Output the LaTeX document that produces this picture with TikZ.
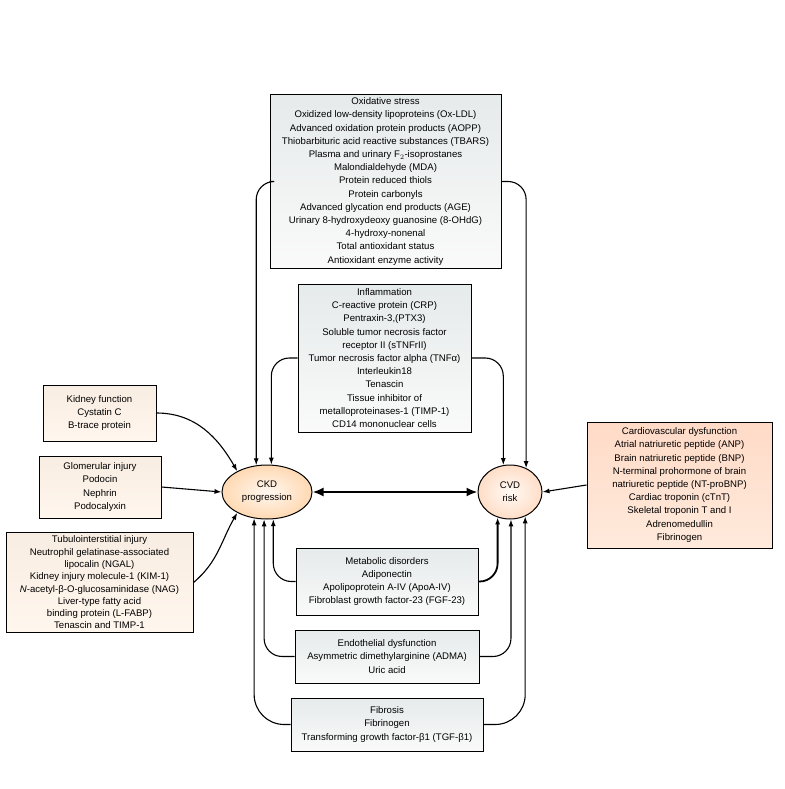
\documentclass[tikz,border=0pt]{standalone}
\usepackage{fontspec}
\setmainfont{Liberation Sans}
\usetikzlibrary{shapes.geometric,arrows.meta}
\begin{document}
\begin{tikzpicture}[x=1pt,y=-1pt,
  box/.style={draw,line width=1pt,align=center,inner sep=0pt,font=\fontsize{9.6}{13.2}\selectfont},
  bluebox/.style={box,top color=cyan!10!gray!18,bottom color=gray!4},
  tanbox/.style={box,top color=orange!22!brown!14,bottom color=orange!7},
  redbox/.style={box,top color=red!30!orange!22,bottom color=red!18!orange!14},
  ell/.style={draw,line width=1pt,ellipse,inner sep=0pt,align=center,font=\fontsize{9.6}{13.2}\selectfont},
  arr/.style={line width=1.1pt,-{Latex[length=7pt,width=5pt]},rounded corners=18}]
  \useasboundingbox (0,0) rectangle (784,789);
  % outcome nodes
  \node[ell,minimum width=90,minimum height=54,inner color=orange!6,outer color=orange!30] (ckd) at (267,492) {CKD\\progression};
  \node[ell,minimum width=64,minimum height=54,inner color=orange!4,outer color=red!20!orange!22] (cvd) at (510,492) {CVD\\risk};
  % biomarker boxes
  \node[bluebox,minimum width=231,minimum height=173] (oxi) at (385.5,181.5) {Oxidative stress\\Oxidized low-density lipoproteins (Ox-LDL)\\Advanced oxidation protein products (AOPP)\\Thiobarbituric acid reactive substances (TBARS)\\Plasma and urinary F$_2$-isoprostanes\\Malondialdehyde (MDA)\\Protein reduced thiols\\Protein carbonyls\\Advanced glycation end products (AGE)\\Urinary 8-hydroxydeoxy guanosine (8-OHdG)\\4-hydroxy-nonenal\\Total antioxidant status\\Antioxidant enzyme activity};
  \node[bluebox,minimum width=173,minimum height=148] (infl) at (384.5,358) {Inflammation\\C-reactive protein (CRP)\\Pentraxin-3,(PTX3)\\Soluble tumor necrosis factor\\receptor II (sTNFrII)\\Tumor necrosis factor alpha (TNFα)\\Interleukin18\\Tenascin\\Tissue inhibitor of\\metalloproteinases-1 (TIMP-1)\\CD14 mononuclear cells};
  \node[tanbox,minimum width=113,minimum height=56] (kid) at (99.5,413) {Kidney function\\Cystatin C\\B-trace protein};
  \node[tanbox,minimum width=122,minimum height=62] (glom) at (100,487) {Glomerular injury\\Podocin\\Nephrin\\Podocalyxin};
  \node[tanbox,minimum width=187,minimum height=100,font=\fontsize{9.6}{12.3}\selectfont] (tub) at (99.5,582.5) {Tubulointerstitial injury\\Neutrophil gelatinase-associated\\lipocalin (NGAL)\\Kidney injury molecule-1 (KIM-1)\\\textit{N}-acetyl-β-O-glucosaminidase (NAG)\\Liver-type fatty acid\\binding protein (L-FABP)\\Tenascin and TIMP-1};
  \node[redbox,minimum width=185,minimum height=126] (card) at (679.5,485) {Cardiovascular dysfunction\\Atrial natriuretic peptide (ANP)\\Brain natriuretic peptide (BNP)\\N-terminal prohormone of brain\\natriuretic peptide (NT-proBNP)\\Cardiac troponin (cTnT)\\Skeletal troponin T and I\\Adrenomedullin\\Fibrinogen};
  \node[bluebox,minimum width=182,minimum height=67] (meta) at (387,581.5) {Metabolic disorders\\Adiponectin\\Apolipoprotein A-IV (ApoA-IV)\\Fibroblast growth factor-23 (FGF-23)};
  \node[bluebox,minimum width=184,minimum height=53] (endo) at (387,656.5) {Endothelial dysfunction\\Asymmetric dimethylarginine (ADMA)\\Uric acid};
  \node[bluebox,minimum width=192,minimum height=53] (fib) at (387,724.5) {Fibrosis\\Fibrinogen\\Transforming growth factor-β1 (TGF-β1)};
  % connectors
  \draw[line width=2pt,{Latex[length=11pt,width=9pt]}-{Latex[length=11pt,width=9pt]}] (ckd) -- (cvd);
  \draw[arr] (oxi.west) -| (ckd.112);
  \draw[arr] (oxi.east) -| (cvd.56);
  \draw[arr] (infl.west) -| (ckd.81);
  \draw[arr] (infl.east) -| (cvd.104);
  \draw[arr] (kid.east) to[out=0,in=120] (ckd.145);
  \draw[arr] (glom.east) -- (ckd.west);
  \draw[arr] (tub.east) to[out=40,in=-120] (ckd.215);
  \draw[arr] (card.west) -- (cvd.east);
  \draw[arr] (meta.west) -| (ckd.283);
  \draw[arr,line width=1.8pt] (meta.east) -| (cvd.244);
  \draw[arr] (endo.west) -| (ckd.264);
  \draw[arr] (endo.east) -| (cvd.272);
  \draw[arr,rounded corners=30] (fib.west) -| (ckd.244);
  \draw[arr,rounded corners=30] (fib.east) -| (cvd.302);
\end{tikzpicture}
\end{document}
